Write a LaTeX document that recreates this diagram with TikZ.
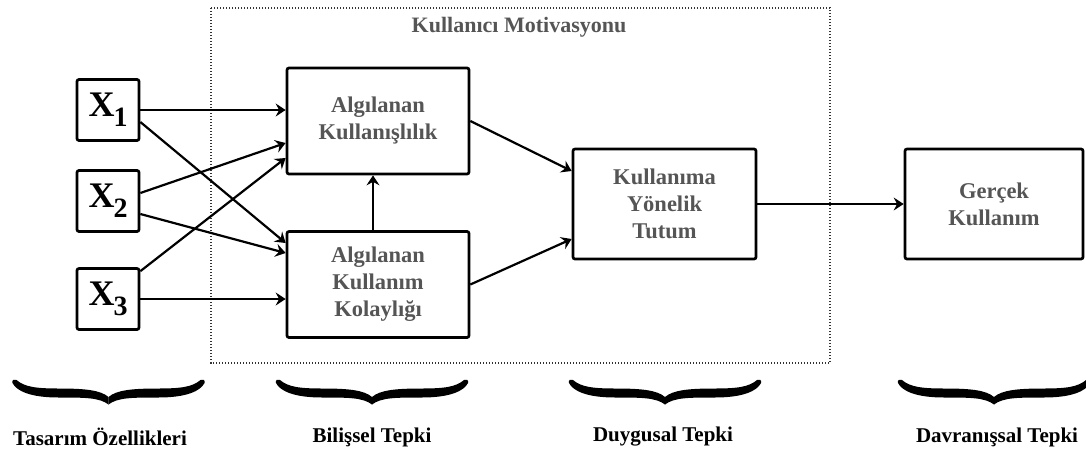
\documentclass[tikz,border=0pt]{standalone}
\usepackage{fontspec}
\setmainfont{Liberation Serif}
\usepackage{xcolor}
\usetikzlibrary{arrows.meta, positioning}
\definecolor{txtgray}{HTML}{555555}
\newcommand{\xsub}[1]{\textbf{X}\kern-1pt\raisebox{-10pt}{\fontsize{28}{28}\selectfont\textbf{#1}}}
\tikzset{
>={Stealth[length=10pt,width=13pt,inset=3.5pt]}, % arrow heads
arr/.style={->, line width=2.2pt}, % connectors between boxes
box/.style={draw, line width=2.7pt, rounded corners=2pt, minimum width=182pt, minimum height=106pt,
  align=center, text=txtgray, font=\fontsize{22.5}{27}\selectfont\bfseries},
xbox/.style={draw, line width=2.7pt, rounded corners=2pt, minimum width=62pt, minimum height=61pt,
  inner sep=0pt, font=\fontsize{36}{36}\selectfont},
dotbox/.style={draw=black!80, line width=1.3pt, dash pattern=on 1.3pt off 1.7pt},
stage/.style={font=\fontsize{21}{21}\selectfont\bfseries},
wavybrace/.pic={
  \foreach \s in {1,-1}
    \fill[xscale=\s] (-92,1) .. controls (-84,-6) and (-72,-7.5) .. (-50,-7.5)
      .. controls (-24,-7.5) and (-8,-9) .. (0,-16) -- (0,-23.5)
      .. controls (-9,-16.5) and (-24,-16.5) .. (-50,-16.5)
      .. controls (-78,-16.5) and (-92,-10) .. (-96,-2)
      .. controls (-97,1) and (-94,2.5) .. (-92,1) -- cycle;
},
}

\begin{document}
\begin{tikzpicture}[x=1pt, y=1pt]
    \useasboundingbox (0,0) rectangle (1086,-450);

    % user motivation frame
    \draw[dotbox] (211,-8) rectangle (830,-363);
    \node[font=\fontsize{22}{22}\selectfont\bfseries, text=txtgray] (motiv) at (519,-27) {Kullanıcı Motivasyonu};

    \node[xbox] (x2) at (108,-201) {\xsub{2}};
    \node[xbox, node distance=91pt, above of=x2] (x1) {\xsub{1}};
    \node[xbox, node distance=98pt, below of=x2] (x3) {\xsub{3}};
    \node[box] (ak) at (378,-121) {Algılanan\\Kullanışlılık};
    \node[box, node distance=163.5pt, below of=ak] (akk) {Algılanan\\Kullanım\\Kolaylığı};
    \node[box, minimum width=183pt, minimum height=110pt] (kyt) at (664.5,-204) {Kullanıma\\Yönelik\\Tutum};
    \node[box, minimum width=178pt, minimum height=110pt, node distance=329.5pt, right of=kyt] (gk) {Gerçek\\Kullanım};

    \path[arr] (x1.east) edge (ak.west |- x1.east)
               ([yshift=-12pt]x1.east) edge ([yshift=41.5pt]akk.west)
               ([yshift=8pt]x2.east) edge ([yshift=-22pt]ak.west)
               ([yshift=-13pt]x2.east) edge ([yshift=31.5pt]akk.west)
               ([yshift=-4pt]x3.north east) edge ([yshift=-37pt]ak.west)
               (x3.east) edge (akk.west |- x3.east)
               ([xshift=-5pt]akk.north) edge ([xshift=-5pt]ak.south)
               (ak.east) edge ([yshift=33pt]kyt.west)
               (akk.east) edge ([yshift=-35pt]kyt.west)
               (kyt.east) edge (gk.west);

    % braces and stage names
    \foreach \cx/\lx/\nm/\txt in {108.5/100/tas/Tasarım Özellikleri, 372/372/bil/Bilişsel Tepki,
                                  665/663/duy/Duygusal Tepki, 994/997/dav/Davranışsal Tepki} {
        \pic at (\cx,-381) {wavybrace};
        \node[stage] (\nm) at (\lx,-437) {\txt};
    }
\end{tikzpicture}
\end{document}
